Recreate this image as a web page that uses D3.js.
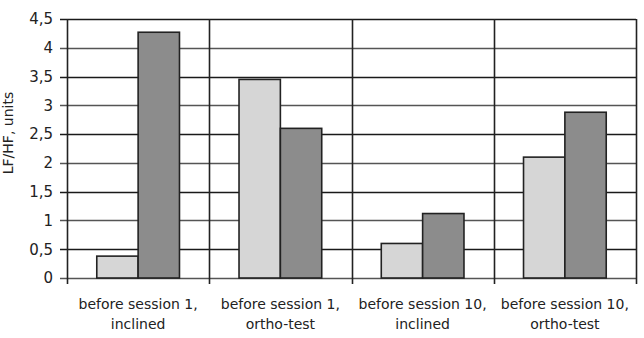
<!DOCTYPE html>
<html>
<head>
<meta charset="utf-8">
<script src="https://cdn.jsdelivr.net/npm/d3@7"></script>
<style>
  body { margin: 0; background: #fff; }
  text { font-family: "DejaVu Sans", Verdana, sans-serif; fill: #222; }
</style>
</head>
<body>
<svg id="chart" width="644" height="338"></svg>
<script>
const categories = [
  ["before session 1,", "inclined"],
  ["before session 1,", "ortho-test"],
  ["before session 10,", "inclined"],
  ["before session 10,", "ortho-test"]
];
const seriesLight = [0.38, 3.45, 0.6, 2.1];
const seriesDark = [4.27, 2.6, 1.12, 2.88];
const yTicks = [0, 0.5, 1, 1.5, 2, 2.5, 3, 3.5, 4, 4.5];
const yLabel = "LF/HF, units";

const m = { left: 67, right: 8, top: 19, bottom: 60 };
const W = 644, H = 338;
const svg = d3.select('#chart');

const x = d3.scaleBand()
  .domain(categories.map((d, i) => i))
  .range([m.left, W - m.right])
  .paddingInner(0).paddingOuter(0);
const inner = d3.scaleBand()
  .domain(['light', 'dark'])
  .range([0, x.bandwidth()])
  .paddingOuter(0.72).paddingInner(0);
const y = d3.scaleLinear().domain([0, 4.5]).range([H - m.bottom, m.top]);

// horizontal gridlines
svg.append('g')
  .selectAll('line')
  .data(yTicks)
  .join('line')
  .attr('x1', m.left - 7).attr('x2', W - m.right)
  .attr('y1', d => Math.round(y(d)) + 0.5).attr('y2', d => Math.round(y(d)) + 0.5)
  .attr('stroke', (d, i) => i % 2 ? '#1a1a1a' : '#555')
  .attr('stroke-width', 1.6);

// vertical separators
const seps = categories.map((d, i) => x(i)).concat([x.range()[1]]);
svg.append('g')
  .selectAll('line')
  .data(seps)
  .join('line')
  .attr('x1', d => Math.round(d) + 0.5).attr('x2', d => Math.round(d) + 0.5)
  .attr('y1', m.top).attr('y2', H - m.bottom + 6)
  .attr('stroke', '#222').attr('stroke-width', 1.6);

// bars
const groups = svg.append('g')
  .selectAll('g')
  .data(categories.map((c, i) => ({ i, light: seriesLight[i], dark: seriesDark[i] })))
  .join('g')
  .attr('transform', d => `translate(${x(d.i)},0)`);

groups.selectAll('rect')
  .data(d => [{ k: 'light', v: d.light }, { k: 'dark', v: d.dark }])
  .join('rect')
  .attr('x', d => inner(d.k))
  .attr('width', inner.bandwidth())
  .attr('y', d => y(d.v))
  .attr('height', d => y(0) - y(d.v))
  .attr('fill', d => d.k === 'light' ? '#d6d6d6' : '#8c8c8c')
  .attr('stroke', '#222')
  .attr('stroke-width', 1.6);

// y axis labels
const yAxis = d3.axisLeft(y)
  .tickValues(yTicks)
  .tickSize(0)
  .tickPadding(14)
  .tickFormat(d => String(d).replace('.', ','));
svg.append('g')
  .attr('transform', `translate(${m.left},0)`)
  .call(yAxis)
  .call(g => g.select('.domain').remove())
  .selectAll('text')
  .attr('font-size', 15)
  .attr('font-family', '"DejaVu Sans", Verdana, sans-serif')
  .attr('fill', '#222');

// category labels
const catLabels = svg.append('g')
  .selectAll('text')
  .data(categories.map((c, i) => ({ c, i })))
  .join('text')
  .attr('x', d => x(d.i) + x.bandwidth() / 2)
  .attr('y', 309)
  .attr('text-anchor', 'middle')
  .attr('font-size', 14);
catLabels.selectAll('tspan')
  .data(d => d.c)
  .join('tspan')
  .attr('x', function() { return d3.select(this.parentNode).attr('x'); })
  .attr('dy', (d, i) => i ? 20 : 0)
  .text(d => d);

svg.append('text')
  .attr('transform', `translate(13,133) rotate(-90)`)
  .attr('text-anchor', 'middle')
  .attr('font-size', 14)
  .text(yLabel);
</script>
</body>
</html>
